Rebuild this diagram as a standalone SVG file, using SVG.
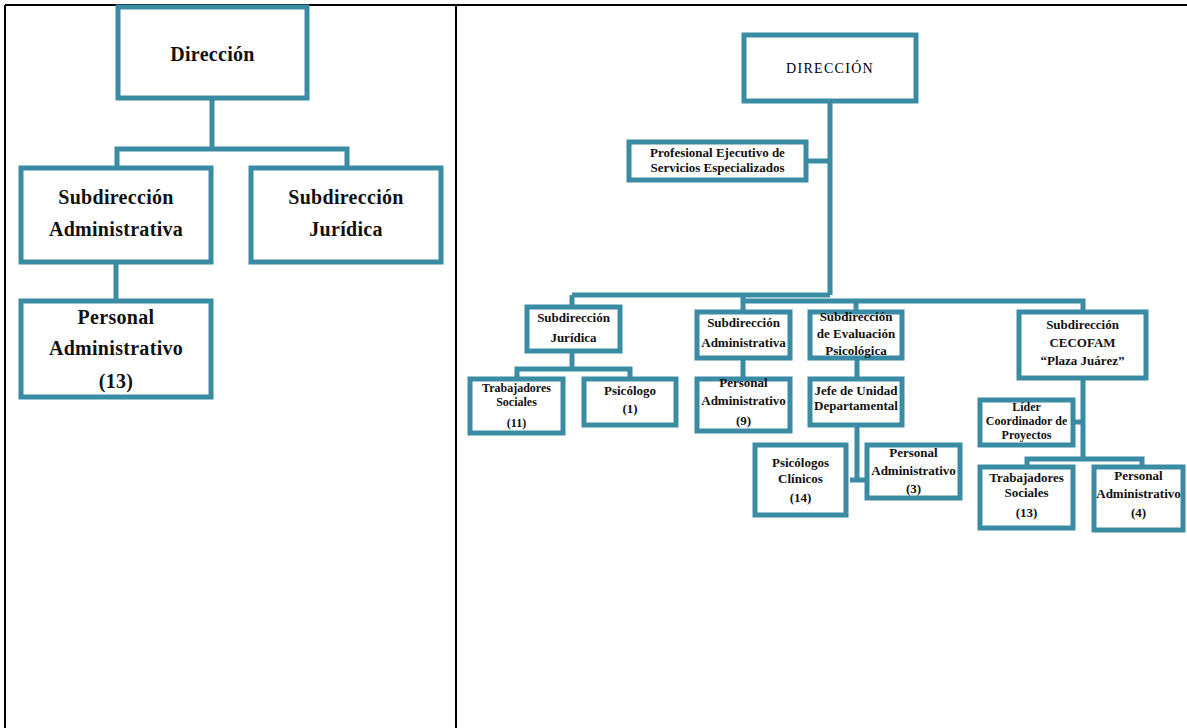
<svg xmlns="http://www.w3.org/2000/svg" width="1187" height="728" viewBox="0 0 1187 728">
<style>
.frame{stroke:#000;stroke-width:2;fill:none}
.box{fill:#fff;stroke:#3a8ca4;stroke-width:5}
.cn{fill:none;stroke:#3a8ca4;stroke-width:5}
text{font-family:"Liberation Serif","Times New Roman",serif;font-weight:bold;fill:#111;text-anchor:middle}
.big{font-size:20px;letter-spacing:0.3px}
.sm{font-size:13px}
.xs{font-size:12px}
.dir{font-size:14px;font-weight:normal;letter-spacing:1.3px;fill:#000}
</style>
<rect width="1187" height="728" fill="#fff"/>
<g id="frame">
<line class="frame" x1="5" y1="5" x2="1187" y2="5"/>
<line class="frame" x1="5" y1="5" x2="5" y2="728"/>
<line class="frame" x1="456" y1="5" x2="456" y2="728"/>
</g>
<g id="connectors">
<path class="cn" d="M212,98 V149 M117,168 V149 H347 V168 M116,262 V301"/>
<path class="cn" d="M830,101 V295 M806,161 H830 M572,295 H830 M743,301 H1083 V312 M572,295 V307 M743,295 V312 M856,301 V312 M572,351 V369 M517,379 V369 H630 V379 M743,358 V379 M857,358 V379 M857,425 V480 M850,480 H867 M1083,378 V460 M1073,422 H1083 M1027,467 V459 H1142 V467"/>
</g>
<g id="l-direccion"><rect class="box" x="118" y="7" width="189" height="91"/><text class="big" x="212.5" y="61">Dirección</text></g>
<g id="l-subadmin"><rect class="box" x="21" y="168" width="190" height="94"/><text class="big" x="116" y="204">Subdirección</text><text class="big" x="116" y="236">Administrativa</text></g>
<g id="l-subjur"><rect class="box" x="251" y="168" width="190" height="94"/><text class="big" x="346" y="204">Subdirección</text><text class="big" x="346" y="236">Jurídica</text></g>
<g id="l-personal"><rect class="box" x="21" y="301" width="190" height="96"/><text class="big" x="116" y="324">Personal</text><text class="big" x="116" y="355">Administrativo</text><text class="big" x="116" y="388">(13)</text></g>

<g id="r-direccion"><rect class="box" x="744" y="35" width="172" height="66"/><text class="dir" x="830" y="73">DIRECCIÓN</text></g>
<g id="r-profesional"><rect class="box" x="629" y="142" width="177" height="38"/><text class="sm" x="717.5" y="157">Profesional Ejecutivo de</text><text class="sm" x="717.5" y="172">Servicios Especializados</text></g>
<g id="r-subjur"><rect class="box" x="527" y="307" width="93" height="44"/><text class="sm" x="573.5" y="322">Subdirección</text><text class="sm" x="573.5" y="342">Jurídica</text></g>
<g id="r-trab11"><rect class="box" x="470" y="379" width="93" height="54"/><text class="xs" x="516.5" y="392">Trabajadores</text><text class="xs" x="516.5" y="406">Sociales</text><text class="xs" x="516.5" y="427">(11)</text></g>
<g id="r-psicologo"><rect class="box" x="584" y="379" width="92" height="46"/><text class="sm" x="630" y="395">Psicólogo</text><text class="sm" x="630" y="413">(1)</text></g>
<g id="r-subadmin"><rect class="box" x="697" y="312" width="93" height="46"/><text class="sm" x="743.5" y="327">Subdirección</text><text class="sm" x="743.5" y="347">Administrativa</text></g>
<g id="r-pers9"><rect class="box" x="697" y="379" width="93" height="52"/><text class="sm" x="743.5" y="387">Personal</text><text class="sm" x="743.5" y="405">Administrativo</text><text class="sm" x="743.5" y="425">(9)</text></g>
<g id="r-subeval"><rect class="box" x="810" y="312" width="92" height="46"/><text class="sm" x="856" y="321">Subdirección</text><text class="sm" x="856" y="338">de Evaluación</text><text class="sm" x="856" y="355">Psicológica</text></g>
<g id="r-jefe"><rect class="box" x="810" y="379" width="92" height="46"/><text class="sm" x="856" y="395">Jefe de Unidad</text><text class="sm" x="856" y="410">Departamental</text></g>
<g id="r-psiclin"><rect class="box" x="755" y="445" width="91" height="70"/><text class="sm" x="800.5" y="467">Psicólogos</text><text class="sm" x="800.5" y="483">Clínicos</text><text class="sm" x="800.5" y="502">(14)</text></g>
<g id="r-pers3"><rect class="box" x="867" y="445" width="93" height="53"/><text class="sm" x="913.5" y="457">Personal</text><text class="sm" x="913.5" y="475">Administrativo</text><text class="sm" x="913.5" y="493">(3)</text></g>
<g id="r-cecofam"><rect class="box" x="1019" y="312" width="127" height="66"/><text class="sm" x="1082.5" y="329">Subdirección</text><text class="sm" x="1082.5" y="347">CECOFAM</text><text class="sm" x="1082.5" y="365">“Plaza Juárez”</text></g>
<g id="r-lider"><rect class="box" x="980" y="400" width="93" height="45"/><text class="xs" x="1026.5" y="411">Líder</text><text class="xs" x="1026.5" y="425">Coordinador de</text><text class="xs" x="1026.5" y="439">Proyectos</text></g>
<g id="r-trab13"><rect class="box" x="980" y="467" width="93" height="61"/><text class="sm" x="1026.5" y="482">Trabajadores</text><text class="sm" x="1026.5" y="497">Sociales</text><text class="sm" x="1026.5" y="517">(13)</text></g>
<g id="r-pers4"><rect class="box" x="1094" y="467" width="89" height="63"/><text class="sm" x="1138.5" y="480">Personal</text><text class="sm" x="1138.5" y="498">Administrativo</text><text class="sm" x="1138.5" y="517">(4)</text></g>
</svg>
